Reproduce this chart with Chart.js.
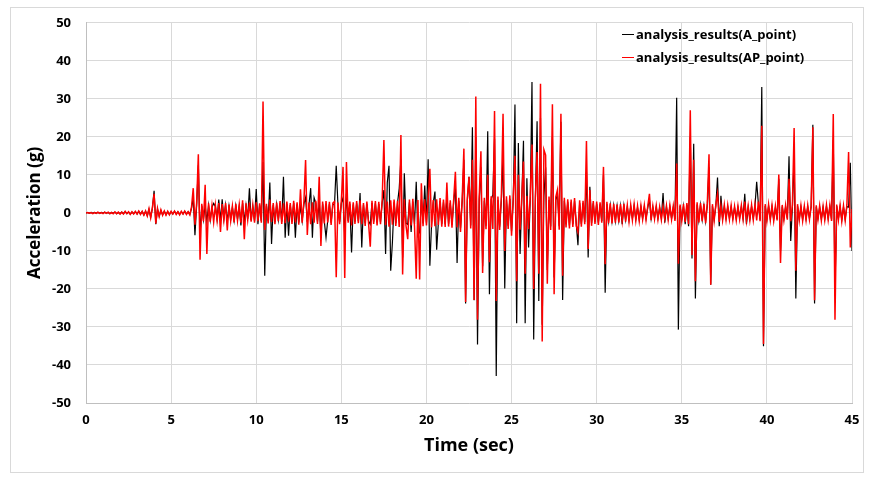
<!DOCTYPE html>
<html>
<head>
<meta charset="utf-8">
<script src="https://cdn.jsdelivr.net/npm/chart.js@4.4.1/dist/chart.umd.min.js"></script>
<style>
  body { margin: 0; background: #fff; }
  #wrap { position: relative; width: 887px; height: 478px; }
  #frame { position: absolute; left: 10px; top: 7px; width: 852px; height: 464px; border: 1px solid #d9d9d9; pointer-events: none; }
  #legend { position: absolute; left: 622px; top: 23px; font: bold 13px "Open Sans", "Liberation Sans", sans-serif; color: #000; line-height: 23px; }
  #legend .row { display: flex; align-items: center; white-space: nowrap; }
  #legend .dash { display: inline-block; width: 12px; height: 0; border-top: 1.5px solid; margin-right: 2px; }
</style>
</head>
<body>
<div id="wrap">
  <canvas id="chart" width="887" height="478"></canvas>
  <div id="frame"></div>
  <div id="legend">
    <div class="row"><span class="dash" style="border-color:#000"></span>analysis_results(A_point)</div>
    <div class="row"><span class="dash" style="border-color:#ff0000"></span>analysis_results(AP_point)</div>
  </div>
</div>
<script>
// sample interval of the records (sec)
const timeStep = 0.1;

// Acceleration (g) at A_point, one row per second
const accelA = [
  0.0, 0.1, -0.1, 0.1, -0.1, 0.1, -0.1, 0.1, -0.1, 0.1,
  -0.1, 0.2, -0.1, 0.1, -0.2, 0.1, -0.1, 0.2, -0.2, 0.1,
  -0.2, 0.2, -0.2, 0.3, -0.2, 0.2, -0.3, 0.2, -0.2, 0.3,
  -0.3, 0.4, -0.3, 0.4, -0.5, 0.4, -0.7, 0.9, -1.1, 1.2,
  5.8, -3.0, 1.0, -0.8, 0.6, -0.5, 0.4, -0.5, 0.3, -0.4,
  0.3, -0.3, 0.4, -0.3, 0.3, -0.4, 0.3, -0.3, 0.4, -0.3,
  0.3, -0.4, 1.2, 4.0, -5.9, 2.0, 12.5, -5.9, 1.9, -1.8,
  2.0, -2.2, 2.0, -1.9, 1.5, 2.5, 1.7, -1.6, 3.5, -2.2,
  3.6, -1.6, 2.1, -2.2, 1.8, -1.7, 1.5, -2.0, 1.9, -1.6,
  1.7, -3.3, 2.6, -2.4, 2.0, -1.5, 6.5, -1.9, 1.6, -2.1,
  6.3, -3.0, 2.0, -2.1, 13.4, -16.5, 1.9, -2.2, 8.0, -8.2,
  2.1, -2.4, 2.2, -1.8, 2.5, -2.3, 9.5, -6.5, 2.4, -6.0,
  2.1, -2.3, 2.6, -6.5, 2.2, -2.5, 2.0, -2.1, 2.3, 4.0,
  -2.4, 2.2, 6.5, -6.5, 4.0, 2.6, -2.3, 3.0, -6.0, 2.4,
  -2.2, -6.5, -2.0, 2.3, -2.6, 2.1, 2.4, 12.4, 2.2, -2.4,
  2.6, 4.0, -6.0, 5.0, -2.1, 2.4, -10.4, 2.2, -2.3, 2.5,
  -2.2, 5.2, -9.1, 2.1, -2.7, 2.4, -2.2, -3.0, 2.6, -2.3,
  2.5, -2.6, 2.3, -2.4, 2.7, 6.0, -10.8, 8.0, 12.4, -15.2,
  -7.8, 2.8, -2.7, 2.6, 6.4, 14.1, -11.7, 10.4, -2.7, -3.0,
  2.8, -5.0, 3.0, -2.9, 8.2, -6.0, -5.0, 3.5, -2.8, 7.2,
  -2.6, 14.1, -13.9, -3.0, 2.7, 5.6, -9.7, -2.6, 3.1, -2.9,
  2.8, -3.0, 4.0, -2.9, 2.6, -3.1, 2.9, 7.0, -13.2, 3.2,
  -4.0, 3.0, 14.0, -23.8, 3.1, 9.5, -3.3, 22.5, -23.0, 20.0,
  -34.6, 3.4, 12.0, -14.0, 3.2, -3.4, 21.5, -21.4, 3.5, 4.8,
  19.5, -42.9, 3.4, -3.6, 3.3, 15.0, -19.9, 3.5, -3.4, 3.7,
  -4.8, 3.4, 28.5, -29.0, 18.4, -10.8, 3.4, 19.0, -29.0, 9.1,
  -9.1, 3.7, 34.4, -33.3, 3.5, 24.1, -23.2, 25.0, -29.4, 4.3,
  12.0, -15.0, 3.4, -3.6, 20.0, -17.0, 3.4, 4.9, -3.5, 24.0,
  -22.9, 3.2, -3.0, 2.9, -3.3, 2.8, -3.0, 3.1, -2.7, -8.5,
  2.6, -2.9, 2.6, -2.4, 10.8, -11.7, 6.9, -2.7, 2.5, -2.3,
  2.4, -2.6, 2.2, -2.1, 10.0, -21.0, 2.3, -2.2, 2.0, -2.2,
  1.9, -2.1, 1.8, -2.0, 1.8, -3.0, 1.9, -1.8, 1.6, -1.8,
  1.7, -1.5, 1.8, -1.6, 1.4, -1.7, 1.5, -1.4, 1.6, -1.4,
  1.4, 3.5, -1.5, 1.4, -1.3, 1.5, -1.4, 1.3, -1.4, 5.2,
  -2.6, 1.5, -1.4, 1.6, -1.4, 1.4, -1.7, 30.3, -30.7, 1.8,
  -1.6, 1.8, -3.0, 2.1, -3.5, 20.0, -12.0, 18.2, -22.5, 2.2,
  -2.0, 2.1, -1.8, 1.9, -2.2, 2.0, 12.0, -18.9, 1.8, -1.7,
  1.8, 9.3, -3.5, 4.5, -1.5, 1.7, -1.4, 1.6, -1.4, 1.5,
  -1.4, 1.4, -1.5, 1.4, -1.3, 1.6, -1.4, 5.0, -3.0, 1.4,
  -1.5, 1.7, -1.4, 1.8, 8.2, 2.4, -1.8, 33.1, -35.1, 1.8,
  -1.7, 1.8, -1.5, 1.6, -1.7, 1.4, -1.6, 9.0, -10.0, 1.7,
  -1.5, 1.6, -1.4, 14.9, -7.4, 1.7, 15.0, -22.5, 1.8, -1.6,
  1.5, -1.7, 1.4, -1.5, 1.6, -1.4, 1.5, 23.2, -23.8, 1.6,
  -1.4, 1.5, -1.6, 1.4, -1.5, 1.7, -1.4, 1.6, -1.7, 19.2,
  -20.0, 1.8, -1.5, 1.6, -1.8, 1.5, -1.6, 1.7, 1.5, 13.2,
  -10.0
];

// Acceleration (g) at AP_point, one row per second
const accelAP = [
  0.0, 0.1, -0.1, 0.1, -0.2, 0.1, -0.1, 0.2, -0.1, 0.1,
  -0.2, 0.2, -0.1, 0.2, -0.2, 0.1, -0.2, 0.3, -0.2, 0.2,
  -0.3, 0.2, -0.3, 0.4, -0.2, 0.3, -0.4, 0.3, -0.3, 0.4,
  -0.3, 0.5, -0.4, 0.4, -0.6, 0.5, -0.8, 1.1, -1.3, 1.4,
  5.0, -2.8, 1.2, -1.0, 0.8, -0.6, 0.5, -0.6, 0.4, -0.5,
  0.4, -0.3, 0.5, -0.4, 0.3, -0.5, 0.4, -0.3, 0.5, -0.4,
  0.3, -0.5, 1.6, 6.5, -3.1, 2.6, 15.4, -12.3, 2.4, -2.2,
  7.4, -10.8, 2.5, -2.3, 1.9, -2.4, 2.1, -2.0, 2.6, -5.0,
  2.3, -1.9, 2.6, -4.6, 2.2, -2.1, 1.8, -2.5, 2.4, -2.0,
  2.1, -2.6, 3.3, -6.9, 2.5, -1.8, 2.7, -2.3, 2.0, -2.6,
  2.8, -2.2, 2.5, -2.6, 29.3, -4.5, 2.4, -2.8, 3.5, -2.4,
  2.6, -3.0, 2.7, -2.2, 3.1, -2.9, 2.5, -2.7, 3.0, -2.3,
  2.6, -2.9, 3.2, -2.5, 2.8, -3.1, 6.2, -2.6, 2.9, 13.9,
  -5.8, 2.7, -3.0, 2.8, -2.6, 3.2, -2.9, 9.5, -8.7, 3.0,
  -2.8, 3.1, -2.5, 2.9, -3.2, 2.6, 3.0, -16.9, 2.7, -3.0,
  3.2, 12.1, -17.1, 13.4, -2.6, 3.0, -3.3, 2.8, -2.9, 3.1,
  -2.7, 3.3, -3.0, 2.6, -3.4, 3.0, -2.8, -8.9, 3.2, -2.9,
  3.1, -3.3, 2.9, -3.0, 3.4, 19.2, -3.2, 3.0, -3.6, 3.3,
  -3.1, 3.5, -3.4, 3.2, -3.7, 20.5, -16.2, 3.6, -3.4, -6.9,
  3.5, -3.3, 3.7, -3.6, -17.3, 3.4, -17.5, 7.8, -3.5, 3.6,
  -3.3, 3.7, 11.6, -3.8, 3.4, -3.5, 3.6, -3.2, 3.9, -3.6,
  3.5, -3.7, 8.0, -3.6, 3.3, -3.9, 3.6, 10.8, -3.8, 4.0,
  -5.0, 3.8, 16.9, -23.4, 3.9, 9.5, -4.1, 14.0, -22.9, 30.6,
  -28.1, 4.2, 16.2, -15.8, 4.0, -4.3, 10.0, -13.0, 4.4, -4.2,
  26.8, -23.2, 4.3, -4.5, 4.1, 26.1, -10.0, 4.4, -4.2, 4.6,
  -6.0, 4.3, 15.0, -18.0, 10.0, -4.4, 4.2, 13.5, -16.0, 4.5,
  -4.3, 4.6, 18.0, -20.0, 4.4, 16.0, -16.0, 34.0, -33.8, 16.6,
  15.2, -18.6, 4.3, -4.5, 28.6, -21.4, 4.2, 6.1, -4.4, 26.1,
  -16.5, 4.0, -3.8, 3.6, -4.1, 3.5, -3.7, 3.9, -3.4, -5.0,
  3.3, -3.6, 3.2, -3.0, 18.9, -9.5, 6.0, -3.4, 3.1, -2.9,
  3.0, -3.2, 2.8, -2.6, 12.1, -13.5, 2.9, -2.7, 2.5, -2.8,
  2.4, -2.6, 2.2, -2.5, 2.3, -2.1, 2.4, -2.3, 2.0, -2.2,
  2.1, -1.9, 2.2, -2.0, 1.8, -2.1, 1.9, -1.7, 2.0, -1.8,
  1.7, 5.0, -1.9, 1.8, -1.6, 1.9, -1.7, 1.6, -1.8, 1.7,
  -1.6, 1.9, -1.8, 2.0, -1.7, 1.8, -2.1, 13.0, -13.4, 2.2,
  -2.0, 2.3, -2.4, 2.6, -3.0, 27.0, -11.1, 14.0, -18.0, 2.8,
  -2.5, 2.6, -2.2, 2.4, -2.7, 2.5, 15.4, -18.9, 2.3, -2.1,
  2.2, 5.0, -2.4, 2.0, -1.9, 2.1, -1.8, 2.0, -1.7, 1.9,
  -1.8, 1.7, -1.9, 1.8, -1.6, 2.0, -1.7, 3.0, -2.0, 1.8,
  -1.9, 2.1, -1.8, 2.2, -2.0, 3.0, -2.2, 22.9, -34.5, 2.3,
  -2.1, 2.2, -1.9, 2.0, -2.1, 1.8, -2.0, 10.1, -13.2, 2.1,
  -1.9, 2.0, -1.8, 9.0, -2.2, 2.1, 22.3, -15.2, 2.3, -2.0,
  1.9, -2.1, 1.8, -1.9, 2.0, -1.7, 1.9, 22.5, -23.0, 2.0,
  -1.8, 1.9, -2.0, 1.7, -1.9, 2.1, -1.8, 2.0, -2.1, 26.0,
  -28.1, 2.2, -1.9, 2.0, -2.2, 1.9, -2.0, 2.1, 16.0, -9.1,
  1.0
];

// axis ranges
const timeMin = 0, timeMax = 45, timeTick = 5;
const accMin = -50, accMax = 50, accTick = 10;

const toPoints = arr => arr.map((v, i) => ({ x: +(i * timeStep).toFixed(1), y: v }));

const fontFamily = '"Open Sans", "Liberation Sans", sans-serif';
const tickFont = { family: fontFamily, size: 13, weight: 'bold' };

new Chart(document.getElementById('chart'), {
  type: 'line',
  data: {
    datasets: [
      {
        label: 'analysis_results(A_point)',
        data: toPoints(accelA),
        borderColor: '#000000',
        borderWidth: 1.2,
        pointRadius: 0,
        order: 1
      },
      {
        label: 'analysis_results(AP_point)',
        data: toPoints(accelAP),
        borderColor: '#ff0000',
        borderWidth: 1.5,
        pointRadius: 0,
        order: 0 // red sits on top
      }
    ]
  },
  options: {
    responsive: false,
    animation: false,
    devicePixelRatio: 1,
    layout: { padding: { top: 18, right: 35, left: 0, bottom: 0 } },
    plugins: { legend: { display: false }, tooltip: { enabled: false } },
    scales: {
      x: {
        type: 'linear',
        min: timeMin, max: timeMax,
        afterFit: s => { s.height = 75; },
        ticks: { stepSize: timeTick, color: '#000', font: tickFont, padding: 9, maxRotation: 0 },
        grid: { color: '#d9d9d9', drawTicks: false },
        border: { color: '#bfbfbf' },
        title: { display: true, text: 'Time (sec)', color: '#000', font: { family: fontFamily, size: 18, weight: 'bold' }, padding: { top: 0, bottom: 21 } }
      },
      y: {
        min: accMin, max: accMax,
        afterFit: s => { s.width = 86; },
        ticks: { stepSize: accTick, color: '#000', font: tickFont, padding: 15 },
        grid: { color: '#d9d9d9', drawTicks: false },
        border: { color: '#bfbfbf' },
        title: { display: true, text: 'Acceleration (g)', color: '#000', font: { family: fontFamily, size: 17, weight: 'bold' }, padding: { top: 25, bottom: 0 } }
      }
    }
  }
});
</script>
</body>
</html>
